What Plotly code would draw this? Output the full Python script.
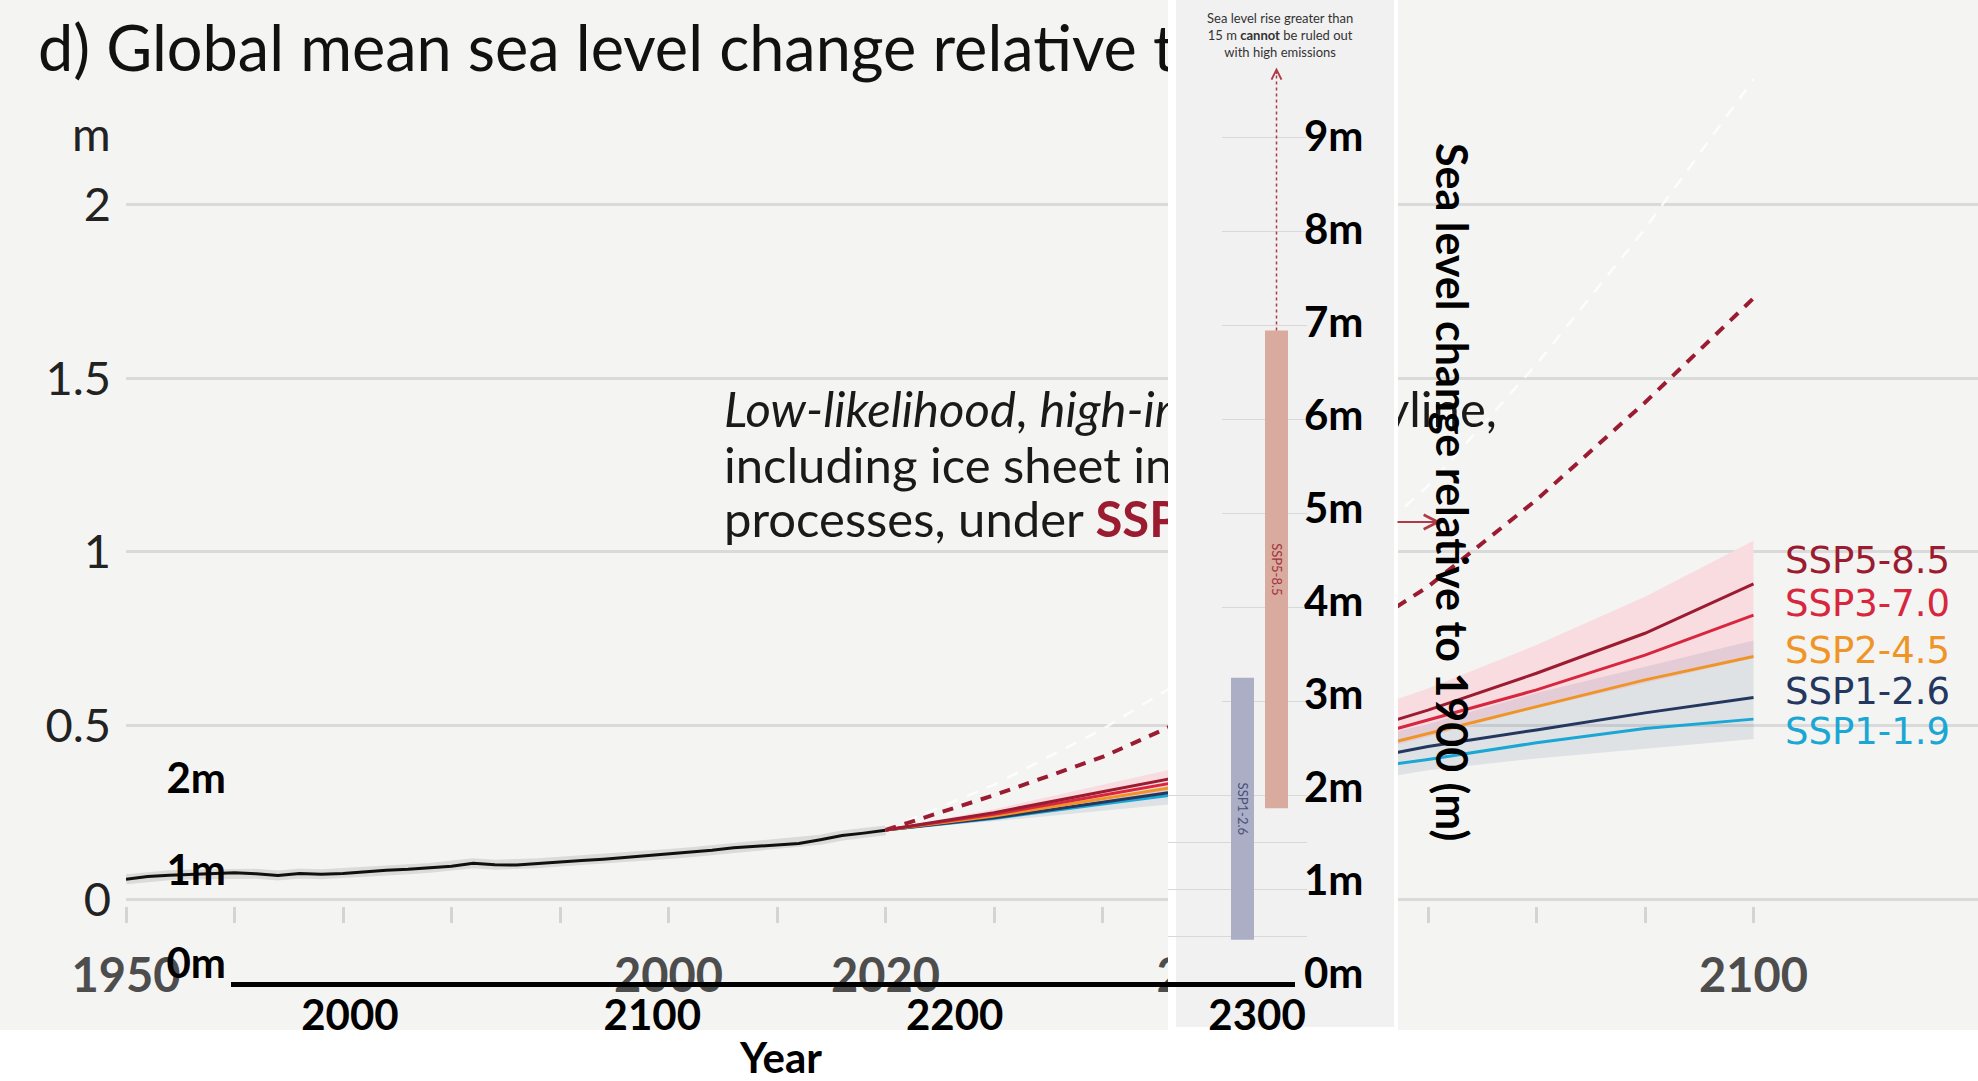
import plotly.graph_objects as go

W, H = 1978, 1081

# ---------------- data ----------------
hist_years = [1950, 1952, 1954, 1956, 1958, 1960, 1962, 1964, 1966, 1968, 1970, 1972,
              1974, 1976, 1978, 1980, 1982, 1984, 1986, 1988, 1990, 1992, 1994, 1996,
              1998, 2000, 2002, 2004, 2006, 2008, 2010, 2012, 2014, 2016, 2018, 2020]
hist_gmsl = [0.058, 0.066, 0.070, 0.072, 0.075, 0.077, 0.074, 0.069, 0.075, 0.073, 0.075, 0.080,
             0.084, 0.087, 0.091, 0.096, 0.104, 0.100, 0.099, 0.104, 0.109, 0.112, 0.116, 0.121,
             0.127, 0.131, 0.136, 0.142, 0.149, 0.153, 0.158, 0.161, 0.172, 0.184, 0.191, 0.199]

proj_years = [2020, 2030, 2040, 2050, 2060, 2070, 2080, 2090, 2100]
ssp585 = [0.20, 0.250, 0.310, 0.370, 0.450, 0.545, 0.651, 0.766, 0.908]
ssp370 = [0.20, 0.245, 0.300, 0.355, 0.430, 0.516, 0.603, 0.703, 0.818]
ssp245 = [0.20, 0.240, 0.290, 0.340, 0.400, 0.478, 0.555, 0.632, 0.699]
ssp126 = [0.20, 0.235, 0.280, 0.325, 0.380, 0.440, 0.488, 0.537, 0.581]
ssp119 = [0.20, 0.233, 0.275, 0.315, 0.360, 0.403, 0.451, 0.492, 0.519]

ssp585_low = [0.20, 0.235, 0.280, 0.330, 0.390, 0.468, 0.551, 0.623, 0.695]
ssp585_high = [0.20, 0.260, 0.330, 0.400, 0.500, 0.607, 0.732, 0.871, 1.032]
ssp126_low = [0.20, 0.225, 0.255, 0.285, 0.320, 0.372, 0.406, 0.435, 0.462]
ssp126_high = [0.20, 0.240, 0.290, 0.350, 0.430, 0.505, 0.594, 0.670, 0.745]

storyline = [0.20, 0.30, 0.41, 0.55, 0.70, 0.90, 1.15, 1.43, 1.73]
storyline_upper = [0.20, 0.33, 0.49, 0.68, 0.91, 1.19, 1.54, 1.93, 2.36]

ssp_names = ["SSP5-8.5", "SSP3-7.0", "SSP2-4.5", "SSP1-2.6", "SSP1-1.9"]

bars2300_names = ["SSP1-2.6", "SSP5-8.5"]
bars2300_low = [0.46, 1.86]
bars2300_high = [3.25, 6.95]
arrow_top_m = 9.7

main_yticks = [0, 0.5, 1, 1.5, 2]
main_ytick_labels = ["0", "0.5", "1", "1.5", "2"]
main_xticks = list(range(1950, 2101, 10))
main_xtick_labels = ["1950", "", "", "", "", "2000", "", "2020", "", "", "2050", "", "", "", "", "2100"]

overlay_xticks = [2000, 2100, 2200, 2300]
overlay_left_ticks = [0, 1, 2]
overlay_right_ticks = list(range(10))

# visible pieces of the texts partly covered by the inset panel
title_text = "d) Global mean sea level change relative t"
story_left = ["<i>Low-likelihood</i>, <i>high-im</i>",
              "including ice sheet ins",
              "processes, under <b><span style='color:#9b1b30'>SSP5</span></b>"]
story_right = "yline,"

# ---------------- styles ----------------
BG = "#f4f4f2"
PANEL = "#f1f1f1"
GRID = "#dadada"
C585, C370, C245, C126, C119 = "#9b1b30", "#d7263d", "#ef9527", "#23375f", "#1aa7d3"
ssp_colors = [C585, C370, C245, C126, C119]
DARKRED = "#9b1b30"


def px_x(p):
    return p / W


def px_y(p):
    return 1 - p / H


fig = go.Figure()

# ---------- subplot xy : main chart ----------
fig.add_trace(go.Scatter(x=hist_years, y=hist_gmsl, mode="lines",
                         line=dict(color="rgba(0,0,0,0.10)", width=10), hoverinfo="skip"))
fig.add_trace(go.Scatter(x=hist_years, y=hist_gmsl, mode="lines",
                         line=dict(color="#111111", width=3)))
fig.add_trace(go.Scatter(x=proj_years, y=ssp585_low, mode="lines", line=dict(width=0)))
fig.add_trace(go.Scatter(x=proj_years, y=ssp585_high, mode="lines", line=dict(width=0),
                         fill="tonexty", fillcolor="#f9dce0"))
fig.add_trace(go.Scatter(x=proj_years, y=ssp126_low, mode="lines", line=dict(width=0)))
fig.add_trace(go.Scatter(x=proj_years, y=ssp126_high, mode="lines", line=dict(width=0),
                         fill="tonexty", fillcolor="rgba(40,70,120,0.10)"))
fig.add_trace(go.Scatter(x=proj_years, y=storyline_upper, mode="lines",
                         line=dict(color="rgba(255,255,255,0.8)", width=2.5, dash="12px,10px")))
fig.add_trace(go.Scatter(x=proj_years, y=storyline, mode="lines",
                         line=dict(color=DARKRED, width=4, dash="11px,9px")))
for name, vals, col in reversed(list(zip(ssp_names, [ssp585, ssp370, ssp245, ssp126, ssp119], ssp_colors))):
    fig.add_trace(go.Scatter(x=proj_years, y=vals, mode="lines", name=name,
                             line=dict(color=col, width=3)))

# ---------- subplot x2y2 : text under the panel + panel background ----------
fig.add_trace(go.Scatter(
    x=[38], y=[55], mode="text", xaxis="x2", yaxis="y2",
    text=[title_text], textposition="middle right",
    textfont=dict(family="Lato", size=63, color="#111111")))
fig.add_trace(go.Scatter(
    x=[724, 724, 724], y=[415, 471, 525], mode="text", xaxis="x2", yaxis="y2",
    text=story_left, textposition="middle right",
    textfont=dict(family="Lato", size=49, color="#1a1a1a")))
fig.add_trace(go.Scatter(
    x=[1384], y=[415], mode="text", xaxis="x2", yaxis="y2",
    text=[story_right], textposition="middle right",
    textfont=dict(family="Lato", size=49, color="#1a1a1a")))
fig.add_trace(go.Scatter(
    x=[1168, 1398, 1398, 1168, 1168], y=[0, 0, 1030, 1030, 0], mode="lines", fill="toself",
    fillcolor="#ffffff", line=dict(width=0), xaxis="x2", yaxis="y2", hoverinfo="skip"))
fig.add_trace(go.Scatter(
    x=[1176, 1394, 1394, 1176, 1176], y=[0, 0, 1027, 1027, 0], mode="lines", fill="toself",
    fillcolor=PANEL, line=dict(width=0), xaxis="x2", yaxis="y2", hoverinfo="skip"))

# ---------- subplot x3y3 : lower panel gridlines ----------
PANEL_ZERO = 983
PANEL_PPM = 93.9
p_rmin = -0.01
p_bottom = PANEL_ZERO - p_rmin * PANEL_PPM
p_rmax = PANEL_ZERO / PANEL_PPM
fig.add_trace(go.Scatter(x=[None], y=[None], xaxis="x3", yaxis="y3", hoverinfo="skip"))

# ---------- subplot x4y4 : 2300 bars ----------
fig.add_trace(go.Bar(
    x=bars2300_names, y=[h - l for l, h in zip(bars2300_low, bars2300_high)], base=bars2300_low,
    xaxis="x4", yaxis="y4", width=0.676, marker=dict(color=["#abaec5", "#d8ab9e"], line=dict(width=0)),
    text=bars2300_names, textposition="inside", insidetextanchor="middle", textangle=90,
    textfont=dict(family="Lato", size=13, color=["#46527c", "#a3333d"]), constraintext="none"))
fig.add_trace(go.Scatter(
    x=[bars2300_names[1], bars2300_names[1]], y=[bars2300_high[1], arrow_top_m], mode="lines",
    xaxis="x4", yaxis="y4", line=dict(color="#b03a48", width=1.5, dash="dot")))

# ---------- subplot x5y5 : bold overlay axes ----------
fig.add_trace(go.Scatter(x=[None], y=[None], xaxis="x5", yaxis="y5", hoverinfo="skip"))
fig.add_trace(go.Scatter(x=[None], y=[None], xaxis="x5", yaxis="y6", hoverinfo="skip"))

BOLD = dict(family="Lato", size=42, color="#000000", weight="bold")

O_ZERO_L, O_PPM_L = 963, 92.5
O_ZERO_R, O_PPM_R = 973, 93.0
O_BOTTOM, O_TOP = 982, 136

fig.update_layout(
    width=W, height=H, autosize=False,
    margin=dict(l=0, r=0, t=0, b=0, pad=0, autoexpand=False),
    paper_bgcolor="#ffffff", plot_bgcolor="rgba(0,0,0,0)",
    showlegend=False, hovermode=False,
    xaxis=dict(domain=[px_x(126), 1], range=[1950, 1950 + (W - 126) / 10.85], anchor="y",
               tickmode="array", tickvals=main_xticks, ticktext=main_xtick_labels,
               ticks="outside", ticklen=16, tickwidth=3, tickcolor="#d4d4d4",
               showgrid=False, zeroline=False, showline=False, ticklabelstandoff=12,
               automargin=False,
               tickfont=dict(family="Lato", size=47, color="#4d4d4d", weight="bold")),
    yaxis=dict(domain=[px_y(899.5 + 0.02 * 347.55), 1], range=[-0.02, 899.5 / 347.55], anchor="x",
               tickmode="array", tickvals=main_yticks, ticktext=main_ytick_labels,
               ticks="", showgrid=True, gridcolor=GRID, gridwidth=3, zeroline=False,
               showline=False, ticklabelstandoff=14, automargin=False,
               tickfont=dict(family="Lato", size=47, color="#222222")),
    xaxis2=dict(domain=[0, 1], range=[0, W], anchor="y2", visible=False, automargin=False),
    yaxis2=dict(domain=[0, 1], range=[H, 0], anchor="x2", visible=False, automargin=False),
    xaxis3=dict(domain=[px_x(1168), px_x(1307)], range=[0, 1], anchor="y3", visible=False,
                automargin=False),
    yaxis3=dict(domain=[px_y(p_bottom), 1], range=[p_rmin, p_rmax], anchor="x3",
                tickmode="array", tickvals=[0, 0.5, 1, 1.5, 2], showticklabels=False, ticks="",
                showgrid=True, gridcolor="#d8d8d8", gridwidth=1, zeroline=False, showline=False,
                automargin=False),
    xaxis4=dict(domain=[px_x(1222), px_x(1307)], type="category", range=[-0.603, 1.897],
                anchor="y4", visible=False, automargin=False),
    yaxis4=dict(domain=[px_y(p_bottom), 1], range=[p_rmin, p_rmax], anchor="x4",
                tickmode="array", tickvals=[3, 4, 5, 6, 7, 8, 9], showticklabels=False, ticks="",
                showgrid=True, gridcolor="#d8d8d8", gridwidth=1, zeroline=False, showline=False,
                automargin=False),
    xaxis5=dict(domain=[px_x(231), px_x(1295)],
                range=[2000 - (350 - 231) / 3.025, 2300 + (1295 - 1257) / 3.025], anchor="y5",
                tickmode="array", tickvals=overlay_xticks, ticks="", showgrid=False, zeroline=False,
                showline=True, linecolor="#000000", linewidth=5, ticklabelstandoff=-7,
                automargin=False, tickfont=BOLD),
    yaxis5=dict(domain=[px_y(O_BOTTOM), px_y(O_TOP)],
                range=[-(O_BOTTOM - O_ZERO_L) / O_PPM_L, (O_ZERO_L - O_TOP) / O_PPM_L],
                anchor="x5", side="left", tickmode="array", tickvals=overlay_left_ticks,
                ticktext=["%dm" % v for v in overlay_left_ticks], ticks="", showgrid=False,
                zeroline=False, showline=False, ticklabelstandoff=4, automargin=False,
                tickfont=BOLD),
    yaxis6=dict(range=[-(O_BOTTOM - O_ZERO_R) / O_PPM_R, (O_ZERO_R - O_TOP) / O_PPM_R],
                overlaying="y5", anchor="x5", side="right", tickmode="array",
                tickvals=overlay_right_ticks, ticktext=["%dm" % v for v in overlay_right_ticks],
                ticks="", showgrid=False, zeroline=False, showline=False, ticklabelstandoff=8,
                automargin=False, tickfont=BOLD),
    shapes=[dict(type="rect", xref="paper", yref="paper", x0=0, x1=1, y0=px_y(1030), y1=1,
                 fillcolor=BG, line=dict(width=0), layer="below")],
)

ann = []
ann.append(dict(x=px_x(91), y=px_y(133), xref="paper", yref="paper", text="m", showarrow=False,
                xanchor="center", yanchor="middle",
                font=dict(family="Lato", size=47, color="#222222")))
label_y = [560, 603, 650, 691.5, 731.7]
for name, col, yy in zip(ssp_names, ssp_colors, label_y):
    ann.append(dict(x=px_x(1783), y=px_y(yy), xref="paper", yref="paper", text=name,
                    xanchor="left", yanchor="middle", showarrow=False,
                    font=dict(family="DejaVu Sans", size=37, color=col)))
ann.append(dict(x=px_x(1280), y=px_y(35), xref="paper", yref="paper",
                text="Sea level rise greater than<br>15 m <b>cannot</b> be ruled out<br>with high emissions",
                showarrow=False, align="center", xanchor="center", yanchor="middle",
                font=dict(family="Lato", size=13, color="#333333")))
ann.append(dict(x=1, y=arrow_top_m + 0.05, xref="x4", yref="y4", text="", showarrow=True,
                ax=0, ay=8, arrowhead=5, arrowsize=1.3, arrowwidth=1.5, arrowcolor="#b03a48"))
ann.append(dict(x=px_x(1441), y=px_y(522), xref="paper", yref="paper", text="", showarrow=True,
                ax=-45, ay=0, arrowhead=5, arrowsize=1.4, arrowwidth=2, arrowcolor="#b03a48"))
ann.append(dict(x=px_x(780), y=px_y(1057), xref="paper", yref="paper", text="Year",
                xanchor="center", yanchor="middle", showarrow=False, font=BOLD))
ann.append(dict(x=px_x(1452), y=px_y(492), xref="paper", yref="paper",
                text="Sea level change relative to 1900 (m)", textangle=90, showarrow=False,
                xanchor="center", yanchor="middle",
                font=dict(family="Lato", size=43, color="#000000", weight="bold")))
fig.update_layout(annotations=ann)

fig.write_html("out.html")
